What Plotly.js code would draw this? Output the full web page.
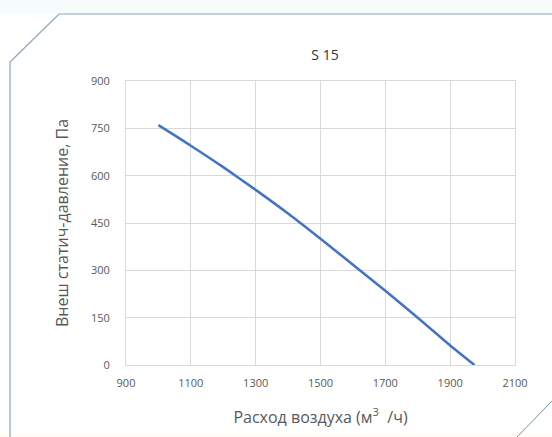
<!DOCTYPE html>
<html>
<head>
<meta charset="utf-8">
<script src="https://cdn.plot.ly/plotly-3.0.1.min.js"></script>
<style>html,body{margin:0;padding:0;background:#fff;}#chart{width:552px;height:437px;}</style>
</head>
<body>
<div id="chart"></div>
<script>
const airflow = [1000, 1100, 1200, 1300, 1400, 1500, 1600, 1700, 1800, 1900, 1975];
const pressure = [760, 695, 627, 555, 480, 400, 318, 235, 150, 62, 0];
const xTicks = [900, 1100, 1300, 1500, 1700, 1900, 2100];
const yTicks = [0, 150, 300, 450, 600, 750, 900];

const W = 552, H = 437;
const L = 126, R = 37, T = 81, B = 72;
const pw = W - L - R, ph = H - T - B;
const px = v => (v - L) / pw;
const py = v => (H - B - v) / ph;
function path(pts){ return pts.map((p,i)=>(i?'L':'M')+px(p[0]).toFixed(4)+','+py(p[1]).toFixed(4)).join(' '); }

const frameColor = '#8aa4bd';
const shapes = [
  {type:'rect', xref:'paper', yref:'paper', x0:px(0), x1:px(W), y0:py(0), y1:py(13), fillcolor:'#f6fbfc', line:{width:0}, layer:'below'},
  {type:'rect', xref:'paper', yref:'paper', x0:px(0), x1:px(W), y0:py(434), y1:py(437), fillcolor:'#fffdf3', line:{width:0}, layer:'below'},
  {type:'path', xref:'paper', yref:'paper', path:path([[10,437],[10,62],[59,14],[552,14]]), line:{color:frameColor, width:1.2}},
  {type:'path', xref:'paper', yref:'paper', path:path([[517,437],[552,401]]), line:{color:'#6f93ba', width:1}}
];

const trace = {
  x: airflow, y: pressure, type:'scatter', mode:'lines',
  line:{color:'#4472c4', width:2.5, shape:'spline', smoothing:0.6},
  hoverinfo:'skip'
};

const tickFont = {family:'Open Sans, Noto Sans, sans-serif', size:11, color:'#595959'};
const layout = {
  width:W, height:H,
  margin:{l:L, r:R, t:T, b:B, pad:0},
  paper_bgcolor:'#ffffff', plot_bgcolor:'#ffffff',
  showlegend:false,
  title:{text:'S 15', x:(325)/W, xanchor:'center', y:1-55/H, yanchor:'middle', font:{family:'Open Sans, Noto Sans, sans-serif', size:14, color:'#333333'}},
  xaxis:{range:[900,2100], tickvals:xTicks, ticktext:xTicks.map(String), showgrid:true, gridcolor:'#d9d9d9', gridwidth:1,
    zeroline:false, showline:true, linecolor:'#d9d9d9', mirror:true, ticks:'outside', ticklen:8, tickcolor:'rgba(0,0,0,0)',
    tickfont:tickFont, fixedrange:true,
    title:{text:'Расход воздуха (м<sup>3</sup>  /ч)', standoff:22, font:{family:'Open Sans, Noto Sans, sans-serif', size:16, color:'#595959'}}},
  yaxis:{range:[0,900], tickvals:yTicks, ticktext:yTicks.map(String), showgrid:true, gridcolor:'#d9d9d9', gridwidth:1,
    zeroline:false, showline:true, linecolor:'#d9d9d9', mirror:true, ticks:'outside', ticklen:13, tickcolor:'rgba(0,0,0,0)',
    tickfont:tickFont, fixedrange:true,
    title:{text:'Внеш статич-давление, Па', standoff:18, font:{family:'Open Sans, Noto Sans, sans-serif', size:16, color:'#595959'}}},
  shapes: shapes
};

Plotly.newPlot('chart', [trace], layout, {displayModeBar:false, staticPlot:true});
</script>
</body>
</html>
